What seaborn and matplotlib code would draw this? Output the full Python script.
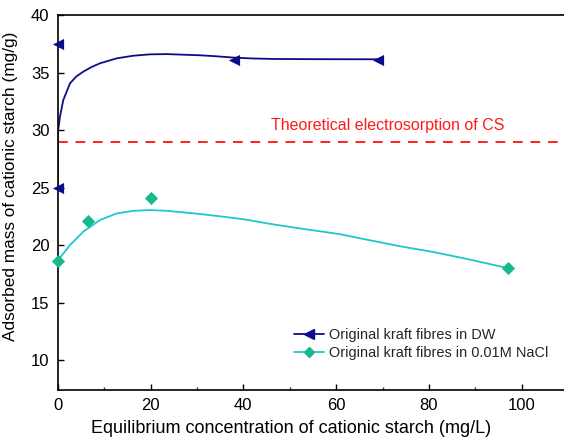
import matplotlib
matplotlib.use("Agg")
import matplotlib.pyplot as plt
from matplotlib.lines import Line2D
from matplotlib.ticker import MultipleLocator
import seaborn as sns

sns.set_theme(style="white")
plt.rcParams['font.family'] = ['Liberation Sans', 'DejaVu Sans']

# Measured points
dw_x = [0, 0, 38, 69]
dw_y = [37.5, 25.0, 36.1, 36.1]
nacl_x = [0, 6.6, 20, 97]
nacl_y = [18.65, 22.05, 24.05, 18.0]

# Fitted curves
dw_fit_x = [0, 0.0, 0.1, 0.5, 1.2, 2.65, 4.0, 5.5, 7.3, 9.1, 12.7, 16.3, 19.9, 23.5, 27, 30.5, 33.5, 37.8, 42, 46.4, 55, 69]
dw_fit_y = [25.0, 29.1, 30.0, 31.2, 32.6, 34.06, 34.65, 35.07, 35.48, 35.8, 36.23, 36.46, 36.58, 36.6, 36.55, 36.5, 36.43, 36.3, 36.22, 36.18, 36.16, 36.15]
nacl_fit_x = [0, 2.65, 5.5, 9.1, 12.7, 16.3, 19.9, 23.5, 30.7, 36, 40, 46.4, 53, 60.8, 65, 73.7, 80.9, 88.1, 97]
nacl_fit_y = [18.64, 20.0, 21.16, 22.17, 22.75, 22.98, 23.04, 22.98, 22.7, 22.45, 22.25, 21.8, 21.4, 20.95, 20.6, 19.9, 19.4, 18.8, 18.0]

theory_y = 29.0

navy = '#0c0c8a'
cyan_line = '#1ec8cc'
green_mk = '#17b98a'

fig = plt.figure(figsize=(5.64, 4.40), dpi=100)
ax = fig.add_axes([57.7/564, 1-390/440, 1-57.7/564, (390-15)/440])

sns.lineplot(x=dw_fit_x, y=dw_fit_y, ax=ax, color=navy, lw=1.3, sort=False, estimator=None)
sns.lineplot(x=nacl_fit_x, y=nacl_fit_y, ax=ax, color=cyan_line, lw=1.3, sort=False, estimator=None)
sns.scatterplot(x=dw_x, y=dw_y, ax=ax, marker='<', color=navy, s=65, edgecolor=navy, linewidth=0, zorder=5, clip_on=False)
sns.scatterplot(x=nacl_x, y=nacl_y, ax=ax, marker='D', color=green_mk, s=45, edgecolor=green_mk, linewidth=0, zorder=5, clip_on=False)

ax.axhline(theory_y, color='#ff2020', ls=(0, (5, 4)), lw=1.4)
ax.text(71.1, 30.0, 'Theoretical electrosorption of CS', color='#ff1a1a', fontsize=11.5, ha='center', va='baseline')

ax.set_xlim(0, 109.1)
ax.set_ylim(7.4, 40)
ax.set_xticks([0, 20, 40, 60, 80, 100])
ax.set_yticks([10, 15, 20, 25, 30, 35, 40])
ax.xaxis.set_minor_locator(MultipleLocator(10))
ax.tick_params(axis='both', which='major', direction='in', length=4, width=1, labelsize=12, colors='black', pad=6)
ax.tick_params(axis='x', which='minor', direction='in', length=2, width=1, bottom=True)
ax.tick_params(axis='y', left=True)
ax.tick_params(axis='x', bottom=True)
for s in ['left', 'bottom', 'top']:
    ax.spines[s].set_color('black')
    ax.spines[s].set_linewidth(1.2)
ax.spines['right'].set_visible(False)

ax.set_xlabel('Equilibrium concentration of cationic starch (mg/L)', fontsize=13, color='black', labelpad=2)
ax.set_ylabel('Adsorbed mass of cationic starch (mg/g)', fontsize=12.4, color='black', labelpad=4)
ax.xaxis.set_label_coords((291.5-57.7)/(564-57.7), -(433-390)/375)
ax.yaxis.set_label_coords(-(57.7-18)/(564-57.7), (390-186.5)/375)
ax.xaxis.label.set_va('baseline')

handles = [
    Line2D([], [], color=navy, marker='<', markersize=7, lw=1.3),
    Line2D([], [], color=cyan_line, marker='D', markersize=5.5, markerfacecolor=green_mk, markeredgecolor=green_mk, lw=1.3),
]
ax.legend(handles, ['Original kraft fibres in DW', 'Original kraft fibres in 0.01M NaCl'],
          loc='lower left', bbox_to_anchor=((288-57.7)/(564-57.7), (390-366)/375), frameon=False,
          fontsize=10.45, handlelength=2.1, handletextpad=0.3, labelspacing=0.3, borderaxespad=0)

fig.savefig('out.png', dpi=100)
